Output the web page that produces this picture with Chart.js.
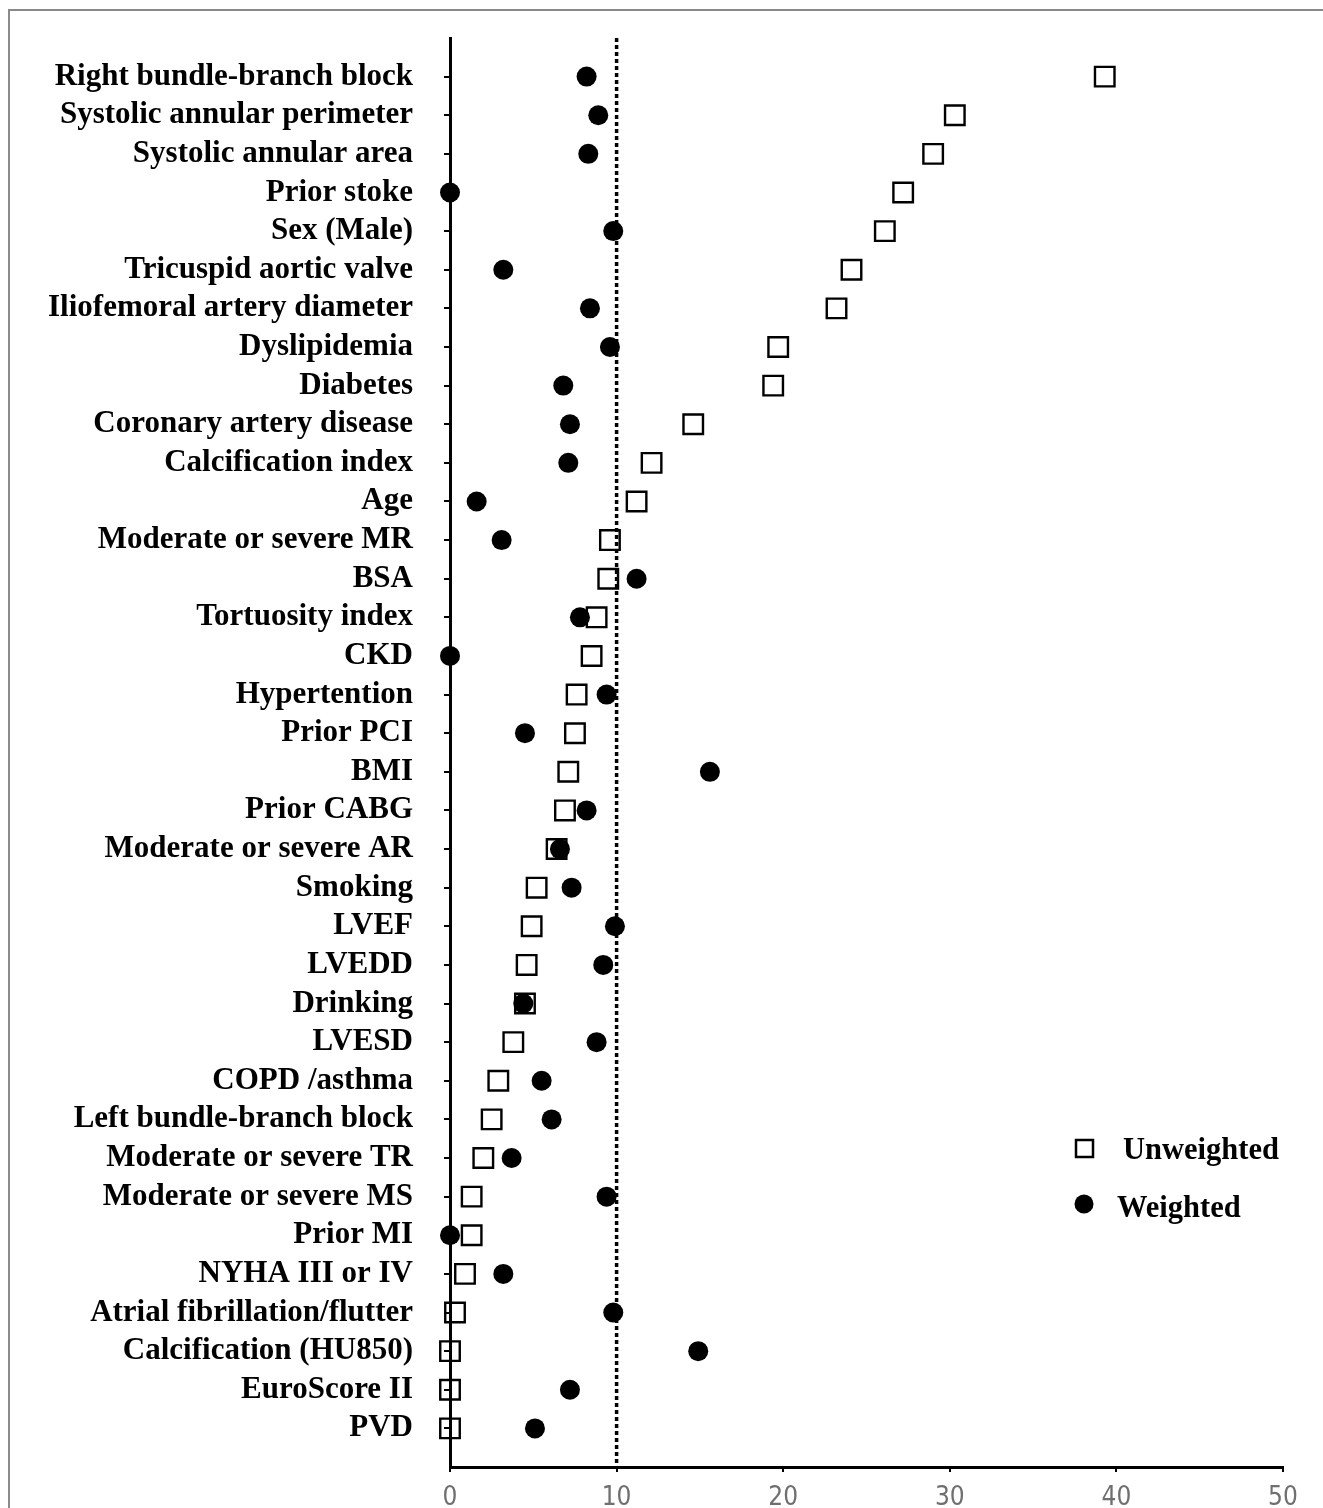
<!DOCTYPE html>
<html>
<head>
<meta charset="utf-8">
<title>Unweighted vs weighted</title>
<script src="https://cdn.jsdelivr.net/npm/chart.js@4/dist/chart.umd.min.js"></script>
<style>
    html, body { margin: 0; padding: 0; background: #fff; overflow: hidden; }
    #wrap { position: relative; width: 1323px; height: 1508px; }
    #frame {
        position: absolute; left: 8px; top: 9px;
        width: 1400px; height: 1600px;
        border: 2px solid #8a8a8a;
    }
    #chart { position: absolute; left: 0; top: 0; }
</style>
</head>
<body>
<div id="wrap">
    <div id="frame"></div>
    <canvas id="chart" width="1323" height="1508"></canvas>
</div>
<script>
// categories, top to bottom
const categories = [
    'Right bundle-branch block', 'Systolic annular perimeter', 'Systolic annular area',
    'Prior stoke', 'Sex (Male)', 'Tricuspid aortic valve', 'Iliofemoral artery diameter',
    'Dyslipidemia', 'Diabetes', 'Coronary artery disease', 'Calcification index', 'Age',
    'Moderate or severe MR', 'BSA', 'Tortuosity index', 'CKD', 'Hypertention', 'Prior PCI',
    'BMI', 'Prior CABG', 'Moderate or severe AR', 'Smoking', 'LVEF', 'LVEDD', 'Drinking',
    'LVESD', 'COPD /asthma', 'Left bundle-branch block', 'Moderate or severe TR',
    'Moderate or severe MS', 'Prior MI', 'NYHA III or IV', 'Atrial fibrillation/flutter',
    'Calcification (HU850)', 'EuroScore II', 'PVD'
];

const unweighted = [
    39.3, 30.3, 29.0, 27.2, 26.1, 24.1, 23.2, 19.7, 19.4, 14.6, 12.1, 11.2,
    9.6, 9.5, 8.8, 8.5, 7.6, 7.5, 7.1, 6.9, 6.4, 5.2, 4.9, 4.6, 4.5,
    3.8, 2.9, 2.5, 2.0, 1.3, 1.3, 0.9, 0.3, 0.0, 0.0, 0.0
];

const weighted = [
    8.2, 8.9, 8.3, 0.0, 9.8, 3.2, 8.4, 9.6, 6.8, 7.2, 7.1, 1.6,
    3.1, 11.2, 7.8, 0.0, 9.4, 4.5, 15.6, 8.2, 6.6, 7.3, 9.9, 9.2, 4.4,
    8.8, 5.5, 6.1, 3.7, 9.4, 0.0, 3.2, 9.8, 14.9, 7.2, 5.1
];

const xTicks = [0, 10, 20, 30, 40, 50];
const threshold = 10;

const labelFont = "'Liberation Serif', 'Times New Roman', serif";

function toPoints(values) {
    return values.map((v, i) => ({ x: v, y: i + 1 }));
}

// legend drawn inside the plot, lower right
const legendPlugin = {
    id: 'innerLegend',
    afterDraw(chart) {
        const ctx = chart.ctx;
        ctx.save();
        ctx.fillStyle = '#000';
        ctx.strokeStyle = '#000';
        ctx.lineWidth = 2.5;
        ctx.strokeRect(1076, 1140, 17, 17);
        ctx.beginPath();
        ctx.arc(1084, 1204, 9.5, 0, Math.PI * 2);
        ctx.fill();
        ctx.font = "bold 30.5px " + labelFont;
        ctx.textBaseline = 'middle';
        ctx.textAlign = 'left';
        ctx.fillText('Unweighted', 1123, 1151);
        ctx.fillText('Weighted', 1117, 1209);
        ctx.restore();
    }
};

function drawChart() {
    const ctx = document.getElementById('chart').getContext('2d');

    window.myChart = new Chart(ctx, {
        type: 'scatter',
        data: {
            datasets: [
                {
                    label: 'Weighted',
                    data: toPoints(weighted),
                    pointStyle: 'circle',
                    pointRadius: 10,
                    backgroundColor: '#000',
                    borderColor: '#000',
                    borderWidth: 0,
                    clip: false,
                    order: 0
                },
                {
                    label: 'Unweighted',
                    data: toPoints(unweighted),
                    pointStyle: 'rect',
                    pointRadius: 13.8,
                    backgroundColor: 'rgba(255,255,255,0)',
                    borderColor: '#000',
                    borderWidth: 2.4,
                    clip: false,
                    order: 1
                },
                {
                    label: 'ref',
                    type: 'line',
                    data: [{ x: threshold, y: 0 }, { x: threshold, y: 36.9 }],
                    borderColor: '#000',
                    borderWidth: 3.5,
                    borderDash: [4, 3],
                    pointRadius: 0,
                    fill: false,
                    clip: false,
                    order: 2
                }
            ]
        },
        options: {
            responsive: false,
            maintainAspectRatio: false,
            animation: false,
            layout: { padding: { top: 38, right: 40, left: 0, bottom: 0 } },
            plugins: {
                legend: { display: false },
                tooltip: { enabled: false }
            },
            scales: {
                x: {
                    type: 'linear',
                    min: xTicks[0],
                    max: xTicks[xTicks.length - 1],
                    afterBuildTicks(scale) {
                        scale.ticks = xTicks.map(v => ({ value: v }));
                    },
                    afterFit(scale) { scale.height = 41; },
                    border: { display: true, color: '#000', width: 3 },
                    grid: {
                        display: true,
                        drawOnChartArea: false,
                        drawTicks: true,
                        tickLength: 5,
                        color: '#000',
                        lineWidth: 2
                    },
                    ticks: {
                        color: '#6f6f6f',
                        padding: 11,
                        font: { family: "'Liberation Sans Narrow', 'DejaVu Sans Condensed', sans-serif", size: 26 }
                    }
                },
                y: {
                    type: 'linear',
                    reverse: true,
                    min: 0,
                    max: categories.length + 1,
                    afterFit(scale) {
                        scale.width = 450;
                        scale.paddingTop = 0;
                        scale.paddingBottom = 0;
                    },
                    border: { display: true, color: '#000', width: 3 },
                    grid: {
                        display: true,
                        drawOnChartArea: false,
                        drawTicks: true,
                        tickLength: 6,
                        lineWidth: 2,
                        color: (c) => (c.tick && c.tick.value >= 1 && c.tick.value <= categories.length) ? '#000' : 'rgba(0,0,0,0)'
                    },
                    ticks: {
                        stepSize: 1,
                        autoSkip: false,
                        color: '#000',
                        padding: 31,
                        font: { family: labelFont, size: 31, weight: 'bold' },
                        callback: (v) => (v >= 1 && v <= categories.length) ? categories[v - 1] : ''
                    }
                }
            }
        },
        plugins: [legendPlugin]
    });
}

document.addEventListener('DOMContentLoaded', drawChart);
</script>
</body>
</html>
